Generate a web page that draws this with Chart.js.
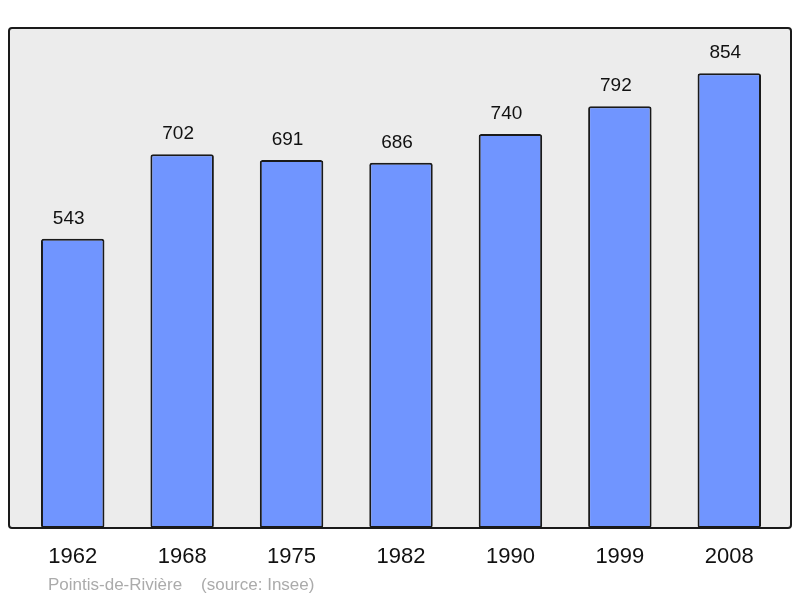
<!DOCTYPE html>
<html>
<head>
<meta charset="utf-8">
<script src="https://cdn.jsdelivr.net/npm/chart.js@4.4.1/dist/chart.umd.min.js"></script>
<style>
  html, body { margin: 0; padding: 0; background: #fff; }
  #wrap { width: 800px; height: 598px; }
</style>
</head>
<body>
<div id="wrap"><canvas id="chartPop" width="800" height="598"></canvas></div>
<script>
const years = ["1962", "1968", "1975", "1982", "1990", "1999", "2008"];
const population = [543, 702, 691, 686, 740, 792, 854];
const sourceText = "Pointis-de-Rivière    (source: Insee)";

const FONT = "'Liberation Sans', Arial, sans-serif";

// grey frame behind the bars
const framePlugin = {
    id: "frame",
    beforeDatasetsDraw(chart) {
        const ctx = chart.ctx;
        ctx.save();
        ctx.beginPath();
        ctx.roundRect(9, 28, 782, 500, 3);
        ctx.fillStyle = "#ececec";
        ctx.fill();
        ctx.lineWidth = 2;
        ctx.strokeStyle = "#1a1a1a";
        ctx.stroke();
        ctx.restore();
    }
};

const labelPlugin = {
    id: "valueLabels",
    afterDatasetsDraw(chart) {
        const ctx = chart.ctx;
        const meta = chart.getDatasetMeta(0);
        ctx.save();
        ctx.font = "19px " + FONT;
        ctx.fillStyle = "#111";
        ctx.textAlign = "center";
        ctx.textBaseline = "alphabetic";
        meta.data.forEach((bar, i) => {
            ctx.fillText(population[i], bar.x - 4, bar.y - 15);
        });
        ctx.font = "17px " + FONT;
        ctx.fillStyle = "#ababab";
        ctx.textAlign = "left";
        ctx.fillText(sourceText, 48, 590);
        ctx.restore();
    }
};

new Chart(document.getElementById("chartPop"), {
    type: "bar",
    data: {
        labels: years,
        datasets: [{
            data: population,
            backgroundColor: "#7095ff",
            borderColor: "#1a1a1a",
            borderWidth: 2,
            borderRadius: 2.5,
            borderSkipped: false,
            categoryPercentage: 1,
            barPercentage: 0.58
        }]
    },
    options: {
        responsive: false,
        animation: false,
        layout: { padding: { left: 18, right: 16, top: 28, bottom: 0 } },
        plugins: {
            legend: { display: false },
            tooltip: { enabled: false }
        },
        scales: {
            x: {
                grid: { display: false, drawTicks: false },
                border: { display: false },
                ticks: { color: "#111", font: { size: 22, family: FONT }, padding: 16 },
                afterFit(s) { s.height = 70; }
            },
            y: {
                display: false,
                min: 0,
                max: 939
            }
        }
    },
    plugins: [framePlugin, labelPlugin]
});
</script>
</body>
</html>
